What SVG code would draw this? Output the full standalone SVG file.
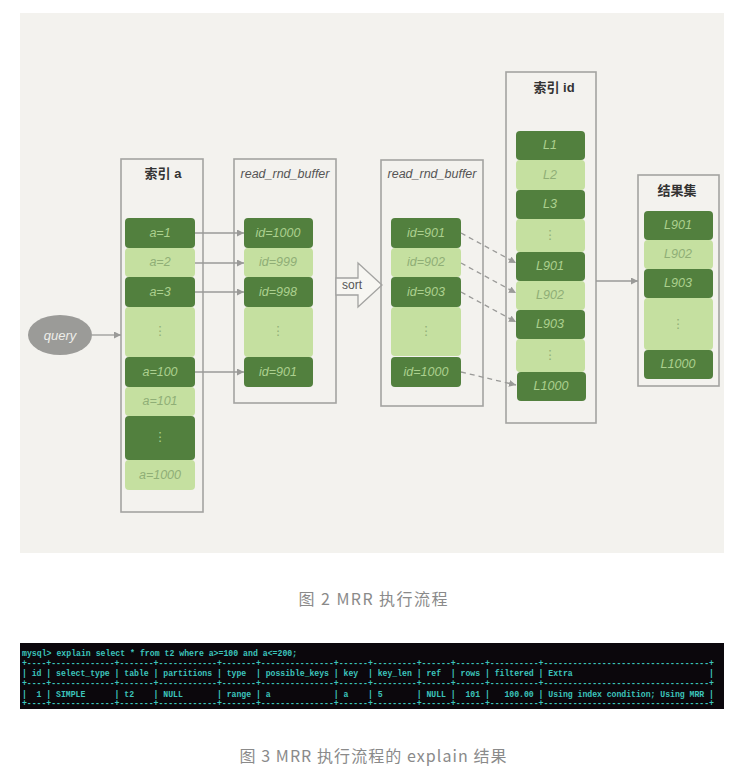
<svg xmlns="http://www.w3.org/2000/svg" width="744" height="782" viewBox="0 0 744 782">
<style>
.box{fill:none;stroke:#a3a3a1;stroke-width:1.6}
.dk{fill:#52803e}
.lt{fill:#c5e0a0}
.tdk{font-family:"Liberation Sans","DejaVu Sans",sans-serif;font-style:italic;font-size:12.5px;fill:#acd08e;text-anchor:middle;dominant-baseline:central}
.tlt{font-family:"Liberation Sans","DejaVu Sans",sans-serif;font-style:italic;font-size:12.5px;fill:#8fae76;text-anchor:middle;dominant-baseline:central}
.ttl{font-family:"Liberation Sans","Noto Sans CJK SC",sans-serif;font-size:13px;fill:#333;text-anchor:middle;dominant-baseline:central}
.tbuf{font-family:"Liberation Sans","DejaVu Sans",sans-serif;font-style:italic;font-size:12.5px;fill:#555;text-anchor:middle;dominant-baseline:central}
.ln{stroke:#9a9a98;stroke-width:1.3;fill:none}
.dash{stroke:#9a9a98;stroke-width:1.3;fill:none;stroke-dasharray:5 4}
.cap{font-family:"Noto Sans CJK SC","Liberation Sans",sans-serif;font-size:16px;fill:#8a8a8a;text-anchor:middle;dominant-baseline:central}
.term{font-family:"Liberation Mono","DejaVu Sans Mono",monospace;font-size:8.2px;font-weight:bold;fill:#3cc4bc;dominant-baseline:central;white-space:pre}
</style>
<defs>
<marker id="ah" viewBox="0 0 10 10" refX="10" refY="5" markerWidth="7" markerHeight="7" markerUnits="userSpaceOnUse" orient="auto"><path d="M0,0 L10,5 L0,10 z" fill="#9a9a98"/></marker>
</defs>
<rect x="20" y="13" width="704" height="540" fill="#f3f2ee"/>

<g id="query">
<ellipse cx="60" cy="335" rx="32" ry="20" fill="#9b9b98"/>
<text x="60" y="335" style="font-family:'Liberation Sans',sans-serif;font-style:italic;font-size:13px;fill:#eeeeea;text-anchor:middle;dominant-baseline:central">query</text>
</g>

<g id="index_a">
<rect class="box" x="121" y="159" width="82" height="353"/>
<text class="ttl" x="163" y="173" font-weight="bold">索引 a</text>
<rect class="dk" x="125" y="218" width="70" height="30" rx="4"/><text class="tdk" x="160" y="233">a=1</text>
<rect class="lt" x="125" y="248" width="70" height="29" rx="4"/><text class="tlt" x="160" y="262">a=2</text>
<rect class="dk" x="125" y="277" width="70" height="30" rx="4"/><text class="tdk" x="160" y="292">a=3</text>
<rect class="lt" x="125" y="307" width="70" height="50" rx="4"/><text class="tlt" x="160" y="331">⋮</text>
<rect class="dk" x="125" y="357" width="70" height="30" rx="4"/><text class="tdk" x="160" y="372">a=100</text>
<rect class="lt" x="125" y="387" width="70" height="29" rx="4"/><text class="tlt" x="160" y="401">a=101</text>
<rect class="dk" x="125" y="416" width="70" height="44" rx="4"/><text class="tdk" x="160" y="437">⋮</text>
<rect class="lt" x="125" y="460" width="70" height="30" rx="4"/><text class="tlt" x="160" y="475">a=1000</text>
</g>

<g id="buffer1">
<rect class="box" x="234" y="159" width="102" height="244"/>
<text class="tbuf" x="285" y="174">read_rnd_buffer</text>
<rect class="dk" x="244" y="218" width="69" height="30" rx="4"/><text class="tdk" x="278" y="233">id=1000</text>
<rect class="lt" x="244" y="248" width="69" height="29" rx="4"/><text class="tlt" x="278" y="262">id=999</text>
<rect class="dk" x="244" y="277" width="69" height="30" rx="4"/><text class="tdk" x="278" y="292">id=998</text>
<rect class="lt" x="244" y="307" width="69" height="50" rx="4"/><text class="tlt" x="278" y="331">⋮</text>
<rect class="dk" x="244" y="357" width="69" height="30" rx="4"/><text class="tdk" x="278" y="372">id=901</text>
</g>

<g id="sort">
<polygon points="336,278 358,278 358,263 382,285 358,307 358,295 336,295" fill="#f7f6f2" stroke="#a3a3a1" stroke-width="1.3"/>
<text x="352" y="285" style="font-family:'Liberation Sans',sans-serif;font-size:12px;fill:#555;text-anchor:middle;dominant-baseline:central">sort</text>
</g>

<g id="buffer2">
<rect class="box" x="381" y="160" width="102" height="246"/>
<text class="tbuf" x="432" y="174">read_rnd_buffer</text>
<rect class="dk" x="391" y="218" width="70" height="30" rx="4"/><text class="tdk" x="426" y="233">id=901</text>
<rect class="lt" x="391" y="248" width="70" height="29" rx="4"/><text class="tlt" x="426" y="262">id=902</text>
<rect class="dk" x="391" y="277" width="70" height="30" rx="4"/><text class="tdk" x="426" y="292">id=903</text>
<rect class="lt" x="391" y="307" width="70" height="49" rx="4"/><text class="tlt" x="426" y="331">⋮</text>
<rect class="dk" x="391" y="357" width="70" height="30" rx="4"/><text class="tdk" x="426" y="372">id=1000</text>
</g>

<g id="index_id">
<rect class="box" x="506" y="72" width="90" height="351"/>
<text class="ttl" x="554" y="87" font-weight="bold">索引 id</text>
<rect class="dk" x="516" y="131" width="69" height="29" rx="4"/><text class="tdk" x="550" y="145">L1</text>
<rect class="lt" x="516" y="160" width="69" height="30" rx="4"/><text class="tlt" x="550" y="175">L2</text>
<rect class="dk" x="516" y="190" width="69" height="29" rx="4"/><text class="tdk" x="550" y="204">L3</text>
<rect class="lt" x="516" y="219" width="69" height="33" rx="4"/><text class="tlt" x="550" y="235">⋮</text>
<rect class="dk" x="516" y="252" width="69" height="29" rx="4"/><text class="tdk" x="550" y="266">L901</text>
<rect class="lt" x="516" y="281" width="69" height="29" rx="4"/><text class="tlt" x="550" y="295">L902</text>
<rect class="dk" x="516" y="310" width="69" height="29" rx="4"/><text class="tdk" x="550" y="324">L903</text>
<rect class="lt" x="516" y="339" width="69" height="33" rx="4"/><text class="tlt" x="550" y="355">⋮</text>
<rect class="dk" x="517" y="372" width="69" height="29" rx="4"/><text class="tdk" x="551" y="386">L1000</text>
</g>

<g id="result">
<rect class="box" x="638" y="175" width="81" height="211"/>
<text class="ttl" x="677" y="190" font-weight="bold">结果集</text>
<rect class="dk" x="644" y="211" width="69" height="29" rx="4"/><text class="tdk" x="678" y="225">L901</text>
<rect class="lt" x="644" y="240" width="69" height="29" rx="4"/><text class="tlt" x="678" y="254">L902</text>
<rect class="dk" x="644" y="269" width="69" height="29" rx="4"/><text class="tdk" x="678" y="283">L903</text>
<rect class="lt" x="644" y="298" width="69" height="52" rx="4"/><text class="tlt" x="678" y="324">⋮</text>
<rect class="dk" x="644" y="350" width="69" height="29" rx="4"/><text class="tdk" x="678" y="364">L1000</text>
</g>

<g id="connectors">
<line class="ln" x1="92" y1="335" x2="121" y2="335" marker-end="url(#ah)"/>
<line class="ln" x1="195" y1="233" x2="244" y2="233" marker-end="url(#ah)"/>
<line class="ln" x1="195" y1="263" x2="244" y2="263" marker-end="url(#ah)"/>
<line class="ln" x1="195" y1="292" x2="244" y2="292" marker-end="url(#ah)"/>
<line class="ln" x1="195" y1="372" x2="244" y2="372" marker-end="url(#ah)"/>
<line class="dash" x1="461" y1="233" x2="516" y2="263" marker-end="url(#ah)"/>
<line class="dash" x1="461" y1="263" x2="516" y2="293" marker-end="url(#ah)"/>
<line class="dash" x1="461" y1="292" x2="516" y2="322" marker-end="url(#ah)"/>
<line class="dash" x1="461" y1="372" x2="516" y2="385" marker-end="url(#ah)"/>
<line class="ln" x1="596" y1="281" x2="638" y2="281" marker-end="url(#ah)"/>
</g>

<text class="cap" x="373" y="598" textLength="149" lengthAdjust="spacing">图 2 MRR 执行流程</text>

<g id="terminal">
<rect x="20" y="643" width="704" height="66" fill="#0b070c"/>
<text class="term" x="22" y="653">mysql&gt; explain select * from t2 where a&gt;=100 and a&lt;=200;</text>
<text class="term" x="22" y="663" textLength="692" lengthAdjust="spacing">+----+-------------+-------+------------+-------+---------------+------+---------+------+------+----------+----------------------------------+</text>
<text class="term" x="22" y="673" textLength="692" lengthAdjust="spacing">| id | select_type | table | partitions | type  | possible_keys | key  | key_len | ref  | rows | filtered | Extra                            |</text>
<text class="term" x="22" y="683" textLength="692" lengthAdjust="spacing">+----+-------------+-------+------------+-------+---------------+------+---------+------+------+----------+----------------------------------+</text>
<text class="term" x="22" y="694" textLength="692" lengthAdjust="spacing">|  1 | SIMPLE      | t2    | NULL       | range | a             | a    | 5       | NULL |  101 |   100.00 | Using index condition; Using MRR |</text>
<text class="term" x="22" y="703" textLength="692" lengthAdjust="spacing">+----+-------------+-------+------------+-------+---------------+------+---------+------+------+----------+----------------------------------+</text>
</g>

<text class="cap" x="373" y="755" textLength="267" lengthAdjust="spacing">图 3 MRR 执行流程的 explain 结果</text>
</svg>
